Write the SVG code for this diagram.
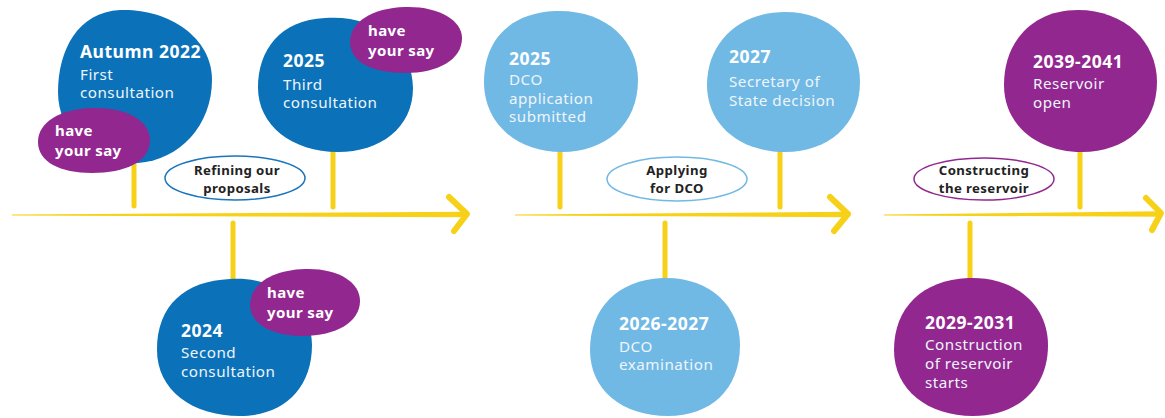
<svg xmlns="http://www.w3.org/2000/svg" width="1165" height="418" viewBox="0 0 1165 418">
<style>
.dark{fill:#0b72b9}
.light{fill:#71b9e5}
.purple{fill:#92278f}
.year{font-family:"Noto Sans","Liberation Sans",sans-serif;font-weight:700;font-size:17.5px;letter-spacing:0.5px;fill:#ffffff}
.desc{font-family:"Noto Sans","Liberation Sans",sans-serif;font-size:15.2px;letter-spacing:0.5px;fill:#eef5fb}
.hys{font-family:"Noto Sans","Liberation Sans",sans-serif;font-weight:700;font-size:15px;letter-spacing:0.4px;fill:#ffffff}
.lbl{font-family:"Noto Sans","Liberation Sans",sans-serif;font-weight:700;font-size:13.2px;letter-spacing:0.4px;fill:#222222;text-anchor:middle}
.stem{stroke:#f7d117;stroke-width:5;stroke-linecap:round;fill:none}
.axis{fill:#f7d117}
.head{stroke:#f7d117;stroke-width:6;stroke-linecap:round;stroke-linejoin:round;fill:none}
.oval{fill:#ffffff;stroke-width:1.5}
</style>
<g id="connectors">
<path class="axis" d="M12,214.6 L467,211.8 L467,217.2 L12,215.6 Z"/>
<polyline class="head" points="449,197 467,214 454,231"/>
<path class="axis" d="M515,214.6 L848,211.8 L848,217.2 L515,215.6 Z"/>
<polyline class="head" points="830,197 848,214 834,231"/>
<path class="axis" d="M884,214.6 L1161,211.3 L1161,216.7 L884,215.6 Z"/>
<polyline class="head" points="1146,198 1161,213 1152,230"/>
<line class="stem" x1="134" y1="160" x2="134" y2="206"/>
<line class="stem" x1="333" y1="150" x2="333" y2="207"/>
<line class="stem" x1="233" y1="223" x2="233" y2="280"/>
<line class="stem" x1="560" y1="150" x2="560" y2="207"/>
<line class="stem" x1="780" y1="150" x2="780" y2="207"/>
<line class="stem" x1="665" y1="223" x2="665" y2="280"/>
<line class="stem" x1="1080" y1="150" x2="1080" y2="207"/>
<line class="stem" x1="970" y1="223" x2="970" y2="280"/>
</g>
<g id="node-autumn2022">
<path class="dark" d="M120,10 C165,8 212,35 212,80 C212,125 180,160 138,163 C95,166 58,135 58,92 C58,50 78,12 120,10 Z"/>
<text class="year" x="80" y="58">Autumn 2022</text>
<text class="desc" x="80" y="80">First</text>
<text class="desc" x="80" y="98">consultation</text>
</g>
<g id="node-hys1">
<path class="purple" d="M92,108 C125,107 150,120 150,140 C150,162 125,173 92,173 C60,173 38,162 38,142 C38,122 60,109 92,108 Z"/>
<text class="hys" x="55" y="136">have</text>
<text class="hys" x="55" y="156">your say</text>
</g>
<g id="node-2025-third">
<path class="dark" d="M325,18 C375,14 413,45 413,88 C413,128 380,152 338,152 C292,152 258,125 258,88 C258,50 280,20 325,18 Z"/>
<text class="year" x="283" y="67">2025</text>
<text class="desc" x="283" y="90">Third</text>
<text class="desc" x="283" y="108">consultation</text>
</g>
<g id="node-hys3">
<path class="purple" d="M405,7 C438,6 462,20 462,38 C462,60 438,73 405,73 C372,73 350,62 350,42 C350,22 372,8 405,7 Z"/>
<text class="hys" x="368" y="36">have</text>
<text class="hys" x="368" y="56">your say</text>
</g>
<g id="node-refining">
<ellipse class="oval" cx="235" cy="178" rx="70" ry="22" stroke="#1a75bb"/>
<text class="lbl" x="237" y="175">Refining our</text>
<text class="lbl" x="237" y="193">proposals</text>
</g>
<g id="node-2024">
<path class="dark" d="M230,279 C278,276 312,305 312,345 C312,390 282,416 240,416 C192,416 157,390 157,350 C157,305 185,281 230,279 Z"/>
<text class="year" x="181" y="337">2024</text>
<text class="desc" x="181" y="358">Second</text>
<text class="desc" x="181" y="377">consultation</text>
</g>
<g id="node-hys2">
<path class="purple" d="M305,269 C338,268 360,282 360,301 C360,322 336,336 303,336 C272,336 250,324 250,305 C250,284 272,270 305,269 Z"/>
<text class="hys" x="267" y="298">have</text>
<text class="hys" x="267" y="318">your say</text>
</g>
<g id="node-2025-dco">
<path class="light" d="M555,11 C605,9 638,40 638,80 C638,125 605,152 562,152 C515,152 484,122 484,82 C484,40 510,13 555,11 Z"/>
<text class="year" x="509" y="65">2025</text>
<text class="desc" x="509" y="85">DCO</text>
<text class="desc" x="509" y="104">application</text>
<text class="desc" x="509" y="122">submitted</text>
</g>
<g id="node-2027">
<path class="light" d="M785,12 C830,12 860,42 860,82 C860,125 828,152 785,152 C740,152 707,125 707,85 C707,42 740,12 785,12 Z"/>
<text class="year" x="729" y="63">2027</text>
<text class="desc" x="729" y="87">Secretary of</text>
<text class="desc" x="729" y="106">State decision</text>
</g>
<g id="node-applying">
<ellipse class="oval" cx="677" cy="179" rx="70" ry="22" stroke="#71b9e5"/>
<text class="lbl" x="677" y="175">Applying</text>
<text class="lbl" x="677" y="193">for DCO</text>
</g>
<g id="node-2026-2027">
<path class="light" d="M662,278 C708,276 740,305 740,345 C740,390 710,416 668,416 C622,416 590,390 590,350 C590,308 618,280 662,278 Z"/>
<text class="year" x="619" y="330">2026-2027</text>
<text class="desc" x="619" y="352">DCO</text>
<text class="desc" x="619" y="370">examination</text>
</g>
<g id="node-constructing">
<ellipse class="oval" cx="984" cy="179" rx="70" ry="21" stroke="#92278f"/>
<text class="lbl" x="984" y="175">Constructing</text>
<text class="lbl" x="984" y="193">the reservoir</text>
</g>
<g id="node-2039-2041">
<path class="purple" d="M1078,10 C1125,10 1157,42 1157,82 C1157,125 1125,152 1082,152 C1037,152 1004,125 1004,85 C1004,42 1032,10 1078,10 Z"/>
<text class="year" x="1033" y="68">2039-2041</text>
<text class="desc" x="1033" y="89">Reservoir</text>
<text class="desc" x="1033" y="108">open</text>
</g>
<g id="node-2029-2031">
<path class="purple" d="M968,278 C1015,276 1048,305 1048,345 C1048,390 1016,416 973,416 C928,416 894,390 894,350 C894,308 922,280 968,278 Z"/>
<text class="year" x="925" y="329">2029-2031</text>
<text class="desc" x="925" y="350">Construction</text>
<text class="desc" x="925" y="369">of reservoir</text>
<text class="desc" x="925" y="388">starts</text>
</g>
</svg>
